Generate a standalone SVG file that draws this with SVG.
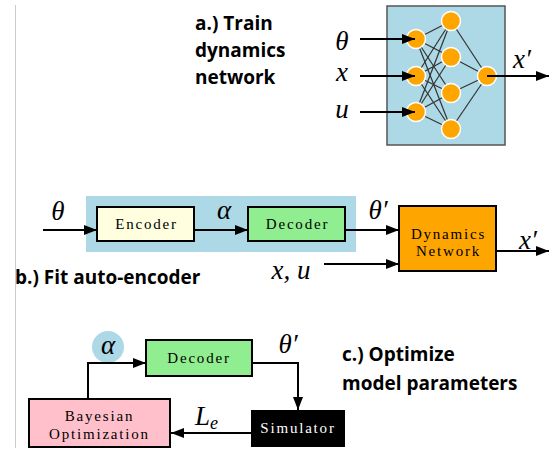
<svg xmlns="http://www.w3.org/2000/svg" width="550" height="451" viewBox="0 0 550 451">
<style>
.head{font-family:"Open Sans","Liberation Sans",sans-serif;font-weight:700;font-size:19px;fill:#000}
.math{font-family:"Liberation Serif",serif;font-style:italic;font-size:27px;fill:#000}
.box{stroke:#000;stroke-width:2}
.lbl{font-family:"Liberation Serif",serif;font-size:15px;letter-spacing:1.8px;fill:#000;text-anchor:middle}
.neu{fill:#ffa500;stroke:#fff;stroke-width:1.5}
.edge{stroke:#333;stroke-width:1.2}
.arr{fill:none;stroke:#000;stroke-width:2;marker-end:url(#ah)}
</style>
<defs>
<marker id="ah" markerUnits="userSpaceOnUse" markerWidth="13" markerHeight="10" refX="13" refY="5" orient="auto">
<path d="M0,0 L13,5 L0,10 z" fill="#000"/>
</marker>
</defs>
<rect width="550" height="451" fill="#fff"/>
<line x1="15.5" y1="5" x2="15.5" y2="448" stroke="#ccc" stroke-width="1"/>

<!-- Panel a -->
<g id="title-a">
<text class="head" x="195" y="30">a.) Train</text>
<text class="head" x="195" y="57">dynamics</text>
<text class="head" x="195" y="84">network</text>
</g>
<g id="nn">
<rect x="387" y="6" width="118" height="139" fill="#add8e6" stroke="#555" stroke-width="1.5"/>
<g id="nn-edges">
<line class="edge" x1="416" y1="39" x2="451" y2="21"/><line class="edge" x1="416" y1="39" x2="451" y2="57"/><line class="edge" x1="416" y1="39" x2="451" y2="93"/><line class="edge" x1="416" y1="39" x2="451" y2="129"/>
<line class="edge" x1="416" y1="76" x2="451" y2="21"/><line class="edge" x1="416" y1="76" x2="451" y2="57"/><line class="edge" x1="416" y1="76" x2="451" y2="93"/><line class="edge" x1="416" y1="76" x2="451" y2="129"/>
<line class="edge" x1="416" y1="112" x2="451" y2="21"/><line class="edge" x1="416" y1="112" x2="451" y2="57"/><line class="edge" x1="416" y1="112" x2="451" y2="93"/><line class="edge" x1="416" y1="112" x2="451" y2="129"/>
<line class="edge" x1="451" y1="21" x2="487" y2="76"/><line class="edge" x1="451" y1="57" x2="487" y2="76"/><line class="edge" x1="451" y1="93" x2="487" y2="76"/><line class="edge" x1="451" y1="129" x2="487" y2="76"/>
</g>
<circle class="neu" cx="416" cy="39" r="9.5"/><circle class="neu" cx="416" cy="76" r="9.5"/><circle class="neu" cx="416" cy="112" r="9.5"/>
<circle class="neu" cx="451" cy="21" r="9.5"/><circle class="neu" cx="451" cy="57" r="9.5"/><circle class="neu" cx="451" cy="93" r="9.5"/><circle class="neu" cx="451" cy="129" r="9.5"/>
<circle class="neu" cx="487" cy="76" r="9.5"/>
</g>
<g id="labels-a">
<text class="math" x="342" y="50" text-anchor="middle">θ</text>
<text class="math" x="342" y="81" text-anchor="middle">x</text>
<text class="math" x="342" y="118" text-anchor="middle">u</text>
<text class="math" x="522" y="68" text-anchor="middle">x′</text>
</g>

<!-- Panel b -->
<rect id="ae-bg" x="86" y="196" width="270" height="56" fill="#add8e6"/>
<g id="encoder-b">
<rect class="box" x="97" y="207" width="97" height="34" fill="#ffffe0"/>
<text class="lbl" x="146.5" y="229">Encoder</text>
</g>
<g id="decoder-b">
<rect class="box" x="248" y="207" width="97" height="34" fill="#90ee90"/>
<text class="lbl" x="297.5" y="229">Decoder</text>
</g>
<g id="dynnet">
<rect class="box" x="399" y="206" width="97" height="65" fill="#ffa500"/>
<text class="lbl" x="448.5" y="239">Dynamics</text>
<text class="lbl" x="448.5" y="256">Network</text>
</g>
<g id="labels-b">
<text class="math" x="58" y="220" text-anchor="middle">θ</text>
<text class="math" x="224" y="219" text-anchor="middle">α</text>
<text class="math" x="378" y="219" text-anchor="middle">θ′</text>
<text class="math" x="291" y="279" text-anchor="middle">x, u</text>
<text class="math" x="528" y="249" text-anchor="middle">x′</text>
<text class="head" x="15" y="284">b.) Fit auto-encoder</text>
</g>

<!-- Panel c -->
<g id="alpha-c">
<circle cx="108" cy="347" r="16" fill="#add8e6"/>
<text class="math" x="108" y="354" text-anchor="middle">α</text>
</g>
<g id="decoder-c">
<rect class="box" x="146" y="340" width="106" height="36" fill="#90ee90"/>
<text class="lbl" x="199" y="363">Decoder</text>
</g>
<g id="bayes">
<rect class="box" x="29" y="399" width="141" height="48" fill="#ffc0cb"/>
<text class="lbl" x="99.5" y="421">Bayesian</text>
<text class="lbl" x="99.5" y="439">Optimization</text>
</g>
<g id="simulator">
<rect x="251" y="410" width="94" height="37" fill="#000"/>
<text class="lbl" x="298" y="433" style="fill:#fff">Simulator</text>
</g>
<g id="labels-c">
<text class="math" x="288" y="353" text-anchor="middle">θ′</text>
<text class="math" x="195" y="425">L<tspan font-size="18" dy="4">e</tspan></text>
<text class="head" x="342" y="361">c.) Optimize</text>
<text class="head" x="342" y="390">model parameters</text>
</g>

<g id="connectors">
<line class="arr" x1="360" y1="39" x2="415" y2="39"/>
<line class="arr" x1="360" y1="76" x2="415" y2="76"/>
<line class="arr" x1="360" y1="112" x2="415" y2="112"/>
<line class="arr" x1="487" y1="76" x2="549" y2="76"/>
<line class="arr" x1="43" y1="230" x2="97" y2="230"/>
<line class="arr" x1="194" y1="230" x2="248" y2="230"/>
<line class="arr" x1="345" y1="230" x2="399" y2="230"/>
<line class="arr" x1="324" y1="264" x2="399" y2="264"/>
<line class="arr" x1="496" y1="251" x2="549" y2="251"/>
<path class="arr" d="M88,399 V363 H146"/>
<path class="arr" d="M252,363 H298 V410"/>
<path class="arr" d="M251,433 H171"/>
</g>
</svg>
